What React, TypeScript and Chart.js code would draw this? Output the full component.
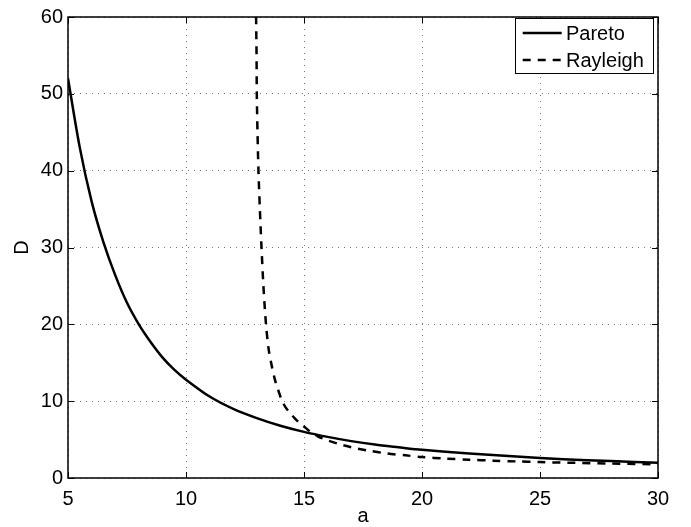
import React, { useEffect, useRef } from "react";
import { Chart, registerables } from "chart.js";

Chart.register(...registerables);

const paretoA = [5, 5.5, 6, 6.5, 7, 7.5, 8, 8.5, 9, 9.5, 10, 11, 12, 13, 14, 15, 16, 17, 18, 19, 20, 22, 24, 26, 28, 30];
const paretoD = [52, 43, 36, 30.7, 26.4, 22.8, 20, 17.7, 15.7, 14.1, 12.8, 10.6, 9.0, 7.8, 6.8, 6.0, 5.35, 4.8, 4.35, 4.0, 3.67, 3.2, 2.8, 2.45, 2.2, 2.0];

const rayleighA = [12.96, 12.97, 12.99, 13.0, 13.03, 13.07, 13.13, 13.2, 13.28, 13.39, 13.5, 13.62, 13.75, 13.9, 14.05, 14.2, 14.4, 14.6, 14.8, 15.0, 15.3, 15.6, 16.0, 16.5, 17.0, 17.7, 18.5, 19.3, 20, 21, 22, 23, 24, 25, 26.5, 28, 30];
const rayleighD = [64, 60, 55, 50, 45, 40, 35, 30, 25, 20, 16.8, 14.8, 13.0, 11.5, 10.2, 9.3, 8.5, 7.8, 7.2, 6.7, 5.95, 5.4, 4.9, 4.4, 4.0, 3.58, 3.2, 2.95, 2.72, 2.52, 2.38, 2.26, 2.16, 2.07, 1.97, 1.88, 1.78];

const xTicks = [5, 10, 15, 20, 25, 30];
const yTicks = [0, 10, 20, 30, 40, 50, 60];
const seriesLabels = ["Pareto", "Rayleigh"];

const FONT = "'Liberation Sans', Arial, Helvetica, sans-serif";
const FS = 20;

const boxPlugin = {
  id: "matlabBox",
  afterDatasetsDraw(chart: any) {
    const { ctx, chartArea } = chart;
    const { left, right, top, bottom } = chartArea;
    const xs = chart.scales.x;
    const ys = chart.scales.y;
    ctx.save();
    ctx.strokeStyle = "#000";
    ctx.lineWidth = 1;
    ctx.beginPath();
    xTicks.forEach((t) => {
      const px = Math.round(xs.getPixelForValue(t)) + 0.5;
      ctx.moveTo(px, bottom);
      ctx.lineTo(px, bottom - 6);
      ctx.moveTo(px, top);
      ctx.lineTo(px, top + 6);
    });
    yTicks.forEach((t) => {
      const py = Math.round(ys.getPixelForValue(t)) + 0.5;
      ctx.moveTo(left, py);
      ctx.lineTo(left + 6, py);
      ctx.moveTo(right, py);
      ctx.lineTo(right - 6, py);
    });
    ctx.stroke();
    ctx.lineWidth = 1.5;
    ctx.strokeRect(left, top, right - left, bottom - top);

    const lx = 515, ly = 18, lw = 138, lh = 55;
    ctx.fillStyle = "#fff";
    ctx.fillRect(lx, ly, lw, lh);
    ctx.lineWidth = 1;
    ctx.strokeRect(lx + 0.5, ly + 0.5, lw, lh);
    const rows = [33, 60];
    chart.data.datasets.forEach((ds: any, i: number) => {
      ctx.beginPath();
      ctx.lineWidth = 2.5;
      ctx.setLineDash(ds.borderDash || []);
      ctx.moveTo(522.7, rows[i]);
      ctx.lineTo(561.7, rows[i]);
      ctx.stroke();
      ctx.setLineDash([]);
      ctx.fillStyle = "#000";
      ctx.font = `${FS}px ${FONT}`;
      ctx.textBaseline = "middle";
      ctx.textAlign = "left";
      ctx.fillText(ds.label, 566, rows[i] + 1);
    });
    ctx.restore();
  },
};

export default function App() {
  const ref = useRef<HTMLCanvasElement | null>(null);
  useEffect(() => {
    document.body.style.margin = "0";
    const canvas = ref.current!;
    const chart = new Chart(canvas, {
      type: "line",
      data: {
        datasets: [
          {
            label: seriesLabels[0],
            data: paretoA.map((a, i) => ({ x: a, y: paretoD[i] })),
            borderColor: "#000",
            borderWidth: 2.5,
            pointRadius: 0,
            fill: false,
            tension: 0.3,
          },
          {
            label: seriesLabels[1],
            data: rayleighA.map((a, i) => ({ x: a, y: rayleighD[i] })),
            borderColor: "#000",
            borderWidth: 2.5,
            borderDash: [8, 7],
            pointRadius: 0,
            fill: false,
            tension: 0.3,
          },
        ],
      },
      options: {
        animation: false,
        responsive: false,
        maintainAspectRatio: false,
        layout: { padding: { left: 0, top: 12, right: 33, bottom: 0 } },
        plugins: { legend: { display: false }, tooltip: { enabled: false } },
        scales: {
          x: {
            type: "linear",
            min: 5,
            max: 30,
            afterBuildTicks: (s: any) => {
              s.ticks = xTicks.map((v) => ({ value: v }));
            },
            afterFit: (s: any) => {
              s.height = 49;
            },
            grid: { color: "#777", lineWidth: 1, drawTicks: false },
            border: { display: false, dash: [1, 5] },
            ticks: {
              color: "#000",
              font: { family: FONT, size: FS },
              padding: 9,
              maxRotation: 0,
            },
            title: {
              display: true,
              text: "a",
              color: "#000",
              font: { family: FONT, size: FS },
              padding: { top: 0, bottom: -1 },
            },
          },
          y: {
            type: "linear",
            min: 0,
            max: 60,
            afterBuildTicks: (s: any) => {
              s.ticks = yTicks.map((v) => ({ value: v }));
            },
            afterFit: (s: any) => {
              s.width = 68;
            },
            grid: { color: "#777", lineWidth: 1, drawTicks: false },
            border: { display: false, dash: [1, 5] },
            ticks: {
              color: "#000",
              font: { family: FONT, size: FS },
              padding: 5,
            },
            title: {
              display: true,
              text: "D",
              color: "#000",
              font: { family: FONT, size: FS },
              padding: { top: 10, bottom: 0 },
            },
          },
        },
      },
      plugins: [boxPlugin],
    } as any);
    return () => chart.destroy();
  }, []);
  return (
    <div style={{ position: "absolute", left: 0, top: 0, width: 691, height: 527, background: "#fff" }}>
      <canvas ref={ref} width={691} height={527} style={{ width: 691, height: 527 }} />
    </div>
  );
}
